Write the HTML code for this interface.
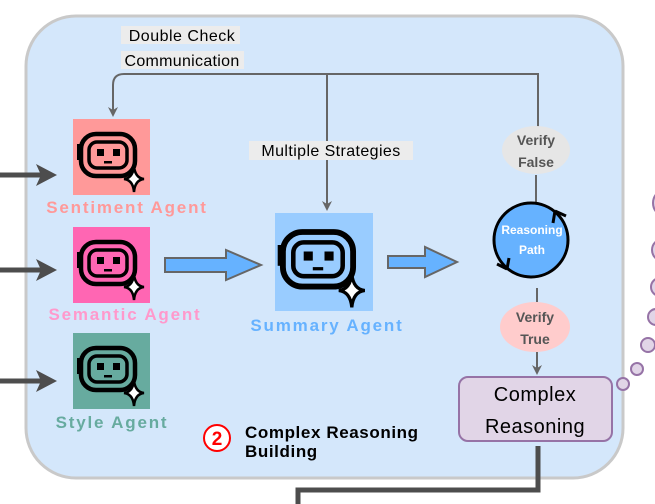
<!DOCTYPE html>
<html><head><meta charset="utf-8"><style>
body{margin:0;background:#fff}
svg{display:block;font-family:"Liberation Sans",sans-serif}
</style></head><body>
<svg width="655" height="504" viewBox="0 0 655 504" xmlns="http://www.w3.org/2000/svg">
<defs>
<marker id="ah" markerWidth="10" markerHeight="10" refX="5" refY="5" orient="auto" markerUnits="userSpaceOnUse">
<path d="M0,0 L10,5 L0,10 L3,5 z" fill="#666"/></marker>
<g id="bot">
<rect x="-27" y="-20" width="54" height="42" rx="15" fill="none" stroke="#000" stroke-width="4.5"/>
<rect x="-19" y="-12" width="38" height="26" rx="8" fill="none" stroke="#000" stroke-width="3.5"/>
<rect x="-11" y="-5" width="7" height="7" fill="#000"/>
<rect x="5" y="-5" width="7" height="7" fill="#000"/>
<rect x="-4" y="7" width="8" height="2.5" fill="#000"/>
<rect x="-31" y="-10" width="3" height="16" fill="#000"/>
<path d="M26,12 Q27,24 36,25 Q27,26 26,38 Q25,26 16,25 Q25,24 26,12z" fill="#fff" stroke="#000" stroke-width="2.5"/>
</g>
</defs>
<rect x="26" y="16" width="597" height="462" rx="50" fill="#d4e7fb" stroke="#c9c9c9" stroke-width="3"/>
<g stroke="#4d4d4d" stroke-width="5"><line x1="0" y1="175" x2="45" y2="175"/><line x1="0" y1="270" x2="45" y2="270"/><line x1="0" y1="381" x2="45" y2="381"/></g>
<g fill="#4d4d4d"><path d="M36,164 L57,175 L36,186 L41,175z"/><path d="M36,259 L57,270 L36,281 L41,270z"/><path d="M36,370 L57,381 L36,392 L41,381z"/></g>
<path d="M538,172 V74 H124 Q113,74 113,85 V112" fill="none" stroke="#666" stroke-width="2" marker-end="url(#ah)"/>
<path d="M327,74 V206" fill="none" stroke="#666" stroke-width="2" marker-end="url(#ah)"/>
<rect x="121" y="26" width="119" height="18" fill="#ececec"/>
<rect x="121" y="51" width="123" height="18" fill="#ececec"/>
<text x="182" y="41" font-size="16" text-anchor="middle" letter-spacing="0.5">Double Check</text>
<text x="182" y="66" font-size="16" text-anchor="middle" letter-spacing="0.3">Communication</text>
<rect x="249" y="141" width="164" height="19" fill="#ececec"/>
<text x="331" y="156" font-size="16" text-anchor="middle" letter-spacing="0.4">Multiple Strategies</text>
<rect x="73" y="119" width="77" height="76" fill="#ff9999"/><use href="#bot" x="108" y="154"/>
<text x="127" y="213" font-size="17" font-weight="bold" fill="#ff9999" text-anchor="middle" letter-spacing="1.8">Sentiment Agent</text>
<rect x="73" y="227" width="77" height="76" fill="#ff66b3"/><use href="#bot" x="108" y="262"/>
<text x="125" y="320" font-size="17" font-weight="bold" fill="#ff99cc" text-anchor="middle" letter-spacing="1.8">Semantic Agent</text>
<rect x="73" y="333" width="77" height="76" fill="#67ab9f"/><use href="#bot" x="108" y="368"/>
<text x="112" y="428" font-size="17" font-weight="bold" fill="#67ab9f" text-anchor="middle" letter-spacing="1.8">Style Agent</text>
<rect x="275" y="213" width="98" height="98" fill="#99ccff"/>
<g transform="translate(318,258) scale(1.3)"><use href="#bot"/></g>
<text x="327" y="331" font-size="17" font-weight="bold" fill="#66b2ff" text-anchor="middle" letter-spacing="1.8">Summary Agent</text>
<path d="M165,258 H226 V250 L261,265 L226,280 V272 H165z" fill="#66b2ff" stroke="#666" stroke-width="2"/>
<path d="M388,256 H425 V247 L457,262 L425,277 V268 H388z" fill="#66b2ff" stroke="#666" stroke-width="2"/>
<line x1="536" y1="175" x2="536" y2="203" stroke="#666" stroke-width="2"/>
<line x1="537" y1="288" x2="537" y2="302" stroke="#666" stroke-width="2"/>
<line x1="537" y1="352" x2="537" y2="370" stroke="#666" stroke-width="2" marker-end="url(#ah)"/>
<ellipse cx="536" cy="150" rx="34" ry="24" fill="#e6e6e6"/>
<text x="536" y="145" font-size="14" font-weight="bold" fill="#555" text-anchor="middle">Verify</text>
<text x="536" y="167" font-size="14" font-weight="bold" fill="#555" text-anchor="middle">False</text>
<circle cx="531" cy="240" r="37" fill="#66b2ff" stroke="#000" stroke-width="3"/>
<path d="M555,211 l11,5 M555,211 l-2,12 M507,269 l-10,-5 M507,269 l2,-11" stroke="#000" stroke-width="3"/>
<text x="532" y="234" font-size="12" font-weight="bold" fill="#fff" text-anchor="middle">Reasoning</text>
<text x="532" y="254" font-size="12" font-weight="bold" fill="#fff" text-anchor="middle">Path</text>
<ellipse cx="535" cy="327" rx="35" ry="25" fill="#ffcccc"/>
<text x="535" y="322" font-size="14" font-weight="bold" fill="#555" text-anchor="middle">Verify</text>
<text x="535" y="344" font-size="14" font-weight="bold" fill="#555" text-anchor="middle">True</text>
<rect x="459" y="377" width="153" height="64" rx="9" fill="#e1d5e7" stroke="#9673a6" stroke-width="2"/>
<text x="535" y="401" font-size="20" text-anchor="middle" letter-spacing="0.5">Complex</text>
<text x="535" y="433" font-size="20" text-anchor="middle" letter-spacing="0.5">Reasoning</text>
<path d="M538,446 V490 H298 V504" fill="none" stroke="#4d4d4d" stroke-width="5"/>
<circle cx="217" cy="438" r="13" fill="#fff" stroke="#f00" stroke-width="2"/>
<text x="217" y="445" font-size="19" font-weight="bold" fill="#f00" text-anchor="middle">2</text>
<text x="245" y="438" font-size="17" font-weight="bold" letter-spacing="0.6">Complex Reasoning</text>
<text x="245" y="457" font-size="17" font-weight="bold" letter-spacing="0.6">Building</text>
<g fill="#e1d5e7" stroke="#9673a6" stroke-width="2">
<circle cx="667" cy="203" r="14"/><circle cx="663" cy="250" r="11"/><circle cx="660" cy="287" r="9"/>
<circle cx="656" cy="317" r="8"/><circle cx="648" cy="345" r="7"/><circle cx="637" cy="369" r="6"/><circle cx="623" cy="384" r="6"/>
</g>
</svg>
</body></html>
